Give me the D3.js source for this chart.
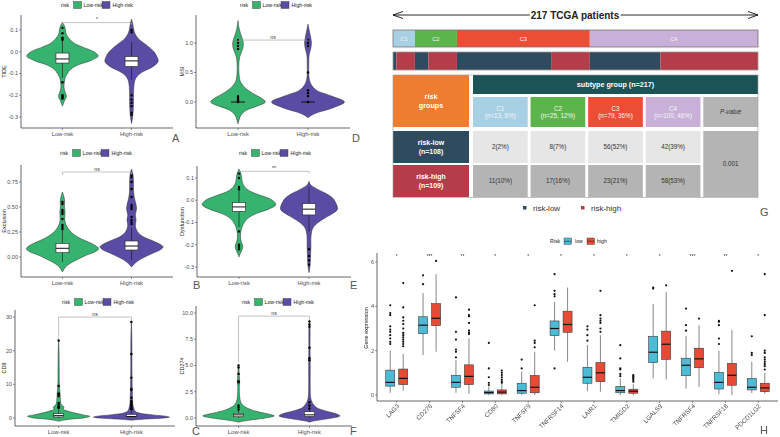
<!DOCTYPE html>
<html><head><meta charset="utf-8">
<script src="https://cdn.jsdelivr.net/npm/d3@7"></script>
<style>body{margin:0;background:#fff}svg{display:block}text{font-family:"Liberation Sans",Arial,sans-serif}.glabs{opacity:0.999;will-change:transform}</style>
</head><body><svg width="780" height="437"></svg>
<script>
// ================= DATA =================
const riskLabels = ["Low-risk", "High-risk"];
const riskFill = ["#35b36f", "#5a4ca4"];

// Panel A: TIDE
const tideTicks = [0.1, 0.0, -0.1, -0.2, -0.3];
const tideLowViolin = [[0.135,0],[0.12,0.05],[0.10,0.08],[0.08,0.1],[0.06,0.18],[0.04,0.3],[0.02,0.55],[0.0,0.83],[-0.02,0.94],[-0.04,0.75],[-0.06,0.42],[-0.08,0.22],[-0.10,0.13],[-0.12,0.07],[-0.14,0.05],[-0.16,0.04],[-0.18,0.06],[-0.20,0.1],[-0.21,0.1],[-0.22,0.07],[-0.24,0.02],[-0.25,0]];
const tideHighViolin = [[0.15,0],[0.13,0.03],[0.10,0.06],[0.08,0.1],[0.06,0.18],[0.04,0.32],[0.02,0.47],[0.0,0.59],[-0.02,0.66],[-0.045,0.7],[-0.07,0.55],[-0.09,0.32],[-0.11,0.16],[-0.13,0.09],[-0.16,0.06],[-0.2,0.05],[-0.24,0.05],[-0.28,0.04],[-0.31,0.02],[-0.33,0]];
const tideBoxes = [[-0.12,-0.052,-0.033,-0.006,0.05],[-0.13,-0.068,-0.042,-0.022,0.045]];
const tideLowDots = [0.11,0.085,0.065,0.06,0.055,-0.14,-0.2,-0.205,-0.21,-0.215];
const tideHighDots = [0.1,0.09,-0.2,-0.22,-0.235,-0.25,-0.28,-0.29];
const tideSig = "*";

// Panel B: Exclusion
const exclTicks = [0.75, 0.5, 0.25, 0.0];
const exclLowViolin = [[0.65,0],[0.6,0.04],[0.55,0.06],[0.5,0.05],[0.45,0.07],[0.4,0.06],[0.35,0.07],[0.3,0.12],[0.26,0.2],[0.22,0.32],[0.18,0.5],[0.14,0.74],[0.1,0.92],[0.08,0.95],[0.05,0.85],[0.02,0.64],[-0.02,0.42],[-0.06,0.22],[-0.1,0.08],[-0.13,0.03],[-0.15,0]];
const exclHighViolin = [[0.88,0],[0.82,0.04],[0.75,0.05],[0.68,0.05],[0.6,0.07],[0.52,0.12],[0.48,0.13],[0.42,0.1],[0.37,0.12],[0.32,0.1],[0.28,0.12],[0.24,0.18],[0.2,0.32],[0.16,0.57],[0.12,0.78],[0.1,0.83],[0.07,0.75],[0.04,0.57],[0.0,0.35],[-0.03,0.2],[-0.07,0.07],[-0.1,0]];
const exclBoxes = [[-0.05,0.043,0.087,0.137,0.27],[-0.03,0.07,0.11,0.16,0.29]];
const exclLowDots = [0.28,0.3,0.32,0.38,0.43,0.45,0.47,0.53,0.55];
const exclHighDots = [0.33,0.35,0.37,0.4,0.48,0.5,0.52,0.6,0.68,0.75,0.8,0.82];
const exclSig = "ns";

// Panel C: CD8
const cd8Ticks = [30, 20, 10, 0];
const cd8LowViolin = [[23,0],[20,0.01],[15,0.015],[10,0.02],[7,0.04],[5,0.05],[4,0.07],[3.4,0.13],[3.0,0.14],[2.6,0.12],[2.2,0.2],[1.6,0.38],[1.0,0.62],[0.5,0.82],[0.1,0.7],[-0.3,0.35],[-0.7,0.1],[-1.0,0]];
const cd8HighViolin = [[28.5,0],[25,0.01],[20,0.015],[15,0.015],[10,0.02],[6,0.03],[4,0.04],[3,0.06],[2,0.1],[1.5,0.2],[1.0,0.5],[0.5,0.92],[0.25,1.0],[0.0,0.85],[-0.3,0.4],[-0.6,0.05],[-0.7,0]];
const cd8Boxes = [[0,0.3,0.7,1.3,2.8],[0,0.15,0.45,1.1,2.5]];
const cd8LowDots = [3,3.2,3.5,4,4.5,6.5,7,7.3,9.5,23];
const cd8HighDots = [2.6,2.8,3,3.5,4,4.5,5,6,8.3,8.6,12,19,28.5];
const cd8Sig = "ns";

// Panel D: MSI
const msiTicks = [1.0, 0.5, 0.0];
const msiLowViolin = [[1.38,0],[1.28,0.02],[1.17,0.06],[1.08,0.11],[1.0,0.14],[0.92,0.13],[0.83,0.08],[0.75,0.04],[0.6,0.02],[0.45,0.03],[0.35,0.06],[0.25,0.17],[0.15,0.38],[0.07,0.6],[0.0,0.72],[-0.07,0.5],[-0.14,0.22],[-0.22,0.08],[-0.3,0.03],[-0.37,0]];
const msiHighViolin = [[1.32,0],[1.22,0.03],[1.1,0.07],[1.0,0.09],[0.9,0.07],[0.8,0.03],[0.65,0.02],[0.5,0.02],[0.4,0.03],[0.3,0.08],[0.2,0.22],[0.1,0.62],[0.0,0.96],[-0.1,0.65],[-0.18,0.25],[-0.23,0.08],[-0.27,0]];
const msiBoxes = [[0,0,0,0,0],[0,0,0,0,0]];
const msiLowDots = [0,0.03,0.05,0.07,0.1,0.9,0.95,1.0,1.05];
const msiHighDots = [0,0.1,0.15,0.2,0.5,0.95,1.0,1.05];
const msiSig = "ns";

// Panel E: Dysfunction
const dysTicks = [0.1, 0.0, -0.1, -0.2, -0.3];
const dysLowViolin = [[0.14,0],[0.12,0.05],[0.10,0.07],[0.08,0.09],[0.06,0.15],[0.04,0.3],[0.02,0.6],[0.0,0.88],[-0.02,0.97],[-0.04,0.78],[-0.06,0.45],[-0.08,0.24],[-0.10,0.14],[-0.12,0.08],[-0.14,0.05],[-0.17,0.04],[-0.19,0.07],[-0.21,0.1],[-0.23,0.06],[-0.245,0.02],[-0.255,0]];
const dysHighViolin = [[0.085,0],[0.07,0.04],[0.05,0.22],[0.03,0.45],[0.01,0.62],[-0.01,0.7],[-0.04,0.75],[-0.06,0.62],[-0.08,0.42],[-0.10,0.24],[-0.12,0.12],[-0.14,0.07],[-0.17,0.05],[-0.21,0.05],[-0.25,0.04],[-0.29,0.03],[-0.315,0.01],[-0.325,0]];
const dysBoxes = [[-0.12,-0.05,-0.03,-0.01,0.05],[-0.14,-0.066,-0.04,-0.015,0.06]];
const dysLowDots = [0.12,0.1,0.06,0.05,-0.14,-0.2,-0.205,-0.21,-0.22];
const dysHighDots = [-0.22,-0.25,-0.27,-0.29];
const dysSig = "**";

// Panel F: CD274
const cd274Ticks = [10, 7.5, 5, 2.5, 0];
const cd274LowViolin = [[5.05,0],[4.5,0.015],[4,0.02],[3.5,0.03],[3,0.02],[2.5,0.02],[2,0.03],[1.5,0.06],[1.2,0.12],[1.0,0.2],[0.7,0.4],[0.4,0.75],[0.2,0.94],[0.0,0.7],[-0.2,0.3],[-0.35,0.05],[-0.4,0]];
const cd274HighViolin = [[9.3,0],[8.5,0.015],[7,0.015],[5,0.02],[3,0.02],[2,0.03],[1.5,0.07],[1.0,0.18],[0.7,0.4],[0.4,0.7],[0.2,0.8],[0.0,0.6],[-0.2,0.25],[-0.35,0.03],[-0.4,0]];
const cd274Boxes = [[0,0.12,0.3,0.45,0.9],[0,0.15,0.3,0.6,1.2]];
const cd274LowDots = [0.8,1.0,1.2,3.4,3.5,4.2,4.8,5.0];
const cd274HighDots = [0.9,1.2,1.5,5.5,5.7,6.7,8.7,8.9,9.2];
const cd274Sig = "ns";

// Panel G
const totalPatients = 217;
const subtypes = ["C1", "C2", "C3", "C4"];
const subtypeN = [13, 25, 79, 100];
const subtypePct = ["6%", "12%", "36%", "46%"];
const subtypeColors = ["#a7d0e4", "#5cb54a", "#eb4e35", "#c8b0d8"];
const riskLowN = [2, 8, 56, 42];
const riskHighN = [11, 17, 23, 58];
const riskGroupNames = ["risk-low", "risk-high"];
const riskGroupColors = ["#2f4b60", "#b53d49"];
const pValueText = "0.001";

// Panel H
const genes = ["LAG3","CD276","TNFSF4","CD80","TNFSF9","TNFRSF14","LAIR1","TMIGD2","LGALS9","TNFRSF4","TNFRSF18","PDCD1LG2"];
const geneSig = ["*","***","**","*","*","*","*","*","*","***","**","*"];
const exprTicks = [0, 2, 4, 6];
const hRisk = ["low", "high"];
const hColors = ["#4dbbd5", "#e64b35"];
// [lower whisker, q1, median, q3, upper whisker]
const lowBoxes = [[0.1,0.4,0.57,1.12,2.0],[1.8,2.77,3.15,3.53,4.6],[0.1,0.35,0.57,0.89,1.58],[0,0.05,0.11,0.18,0.37],[0,0.08,0.2,0.53,1.05],[2.0,2.68,3.0,3.34,4.2],[0.17,0.53,0.8,1.25,2.26],[0,0.1,0.2,0.39,0.75],[0.75,1.46,1.93,2.65,4.11],[0.29,0.87,1.34,1.66,2.67],[0.03,0.27,0.57,1.02,1.99],[0.09,0.23,0.35,0.74,1.5]];
const highBoxes = [[0.2,0.47,0.75,1.17,1.85],[1.95,3.13,3.46,4.12,5.45],[0.05,0.47,0.84,1.36,2.56],[0,0.05,0.13,0.23,0.5],[0,0.1,0.35,0.88,1.95],[1.5,2.83,3.18,3.78,4.85],[0.15,0.6,1.0,1.46,2.7],[0,0.08,0.17,0.26,0.5],[0.7,1.61,2.29,2.88,4.64],[0.36,1.23,1.63,2.11,3.15],[0,0.44,0.89,1.43,2.94],[0.05,0.15,0.32,0.53,1.0]];
const lowOutliers = [[2.3,2.4,2.55,2.7,2.85,2.95,3.1,3.6,3.7,4.05],[5.0,5.4],[1.7,1.95,2.05,2.5,2.85,4.4],[0.45,0.55,0.8,1.2,2.35],[1.2,1.6],[1.2,4.45,4.55,4.7,5.45],[2.45,2.7,2.95,3.1],[0.85,0.95,1.15,1.2,1.65,2.25],[4.8,4.85],[2.9,3.15,3.9],[2.3,2.55,3.15,3.3,3.35],[1.8,1.9,2.65]];
const highOutliers = [[2.2,2.3,2.4,2.5,2.6,2.7,2.8,3.0,3.2,3.35,3.5,3.95,5.05],[6.05],[2.75,2.8,2.9,3.25,3.55,3.6,3.85],[0.55,0.62,0.7,0.8,0.9,1.0,1.1],[2.15,2.35,2.45,4.05],[],[2.85,3.0,3.25,3.35,3.45,3.6,4.7],[0.6,0.68,0.75,0.8,0.85,0.9],[4.95],[3.45],[5.6],[1.15,1.3,1.4,1.5,1.6,1.7,1.9,2.0,3.6,5.45]];

// ================= DRAW =================
const svg = d3.select("svg");

function violinPanel(o) {
  const g = svg.append("g");
  const y = d3.scaleLinear().domain(o.dom).range(o.rng);
  const x = d3.scalePoint().domain(riskLabels).range(o.xr).padding(0.6);
  const w = d3.scaleLinear().domain([0, 1]).range([0, 38]);
  const lg = g.append("g").attr("transform", `translate(${o.lx},${o.ly})`);
  lg.append("text").attr("y", 0).attr("dy", "0.35em").attr("font-size", 5.2).attr("fill", "#222").text("risk");
  const offs = [[12.5, 22.5], [41, 51.5]];
  riskLabels.forEach((r, i) => {
    lg.append("rect").attr("x", offs[i][0]).attr("y", -3.5).attr("width", 8).attr("height", 7)
      .attr("fill", riskFill[i]).attr("stroke", "#333").attr("stroke-width", 0.4);
    lg.append("text").attr("x", offs[i][1]).attr("dy", "0.35em").attr("font-size", 5.2).attr("fill", "#222").text(r);
  });
  const x0 = o.xr[0], x1 = o.xr[1], yb = o.yb;
  [o.violins[0], o.violins[1]].forEach((v, i) => {
    const cx = x(riskLabels[i]);
    const area = d3.area().y(d => y(d[0])).x0(d => cx - w(d[1])).x1(d => cx + w(d[1]))
      .curve(d3.curveCatmullRom.alpha(0.5));
    g.append("path").attr("d", area(v)).attr("fill", riskFill[i]).attr("stroke", "#2a2a2a").attr("stroke-width", 0.5);
  });
  o.boxes.forEach((b, i) => {
    const cx = x(riskLabels[i]);
    g.append("line").attr("x1", cx).attr("x2", cx).attr("y1", y(b[0])).attr("y2", y(b[4])).attr("stroke", "#111").attr("stroke-width", 0.6);
    const bw = o.boxW;
    g.append("rect").attr("x", cx - bw / 2).attr("width", bw).attr("y", y(b[3])).attr("height", Math.max(0, y(b[1]) - y(b[3])))
      .attr("fill", "#fff").attr("stroke", "#222").attr("stroke-width", 0.6);
    g.append("line").attr("x1", cx - bw / 2).attr("x2", cx + bw / 2).attr("y1", y(b[2])).attr("y2", y(b[2])).attr("stroke", "#111").attr("stroke-width", 1);
  });
  o.dots.forEach((ds, i) => {
    const cx = x(riskLabels[i]);
    g.selectAll(null).data(ds).enter().append("circle").attr("cx", cx).attr("cy", d => y(d)).attr("r", 1.2).attr("fill", "#000");
  });
  g.append("line").attr("x1", x0).attr("x2", x0).attr("y1", o.yt).attr("y2", yb).attr("stroke", "#000").attr("stroke-width", 0.6);
  g.append("line").attr("x1", x0).attr("x2", x1).attr("y1", yb).attr("y2", yb).attr("stroke", "#000").attr("stroke-width", 0.6);
  o.ticks.forEach(t => {
    g.append("line").attr("x1", x0 - 2).attr("x2", x0).attr("y1", y(t)).attr("y2", y(t)).attr("stroke", "#333").attr("stroke-width", 0.5);
    g.append("text").attr("x", x0 - 3).attr("y", y(t)).attr("dy", "0.35em").attr("text-anchor", "end")
      .attr("font-size", 5.5).attr("fill", "#4d4d4d").text(o.fmt(t));
  });
  riskLabels.forEach(r => {
    g.append("line").attr("x1", x(r)).attr("x2", x(r)).attr("y1", yb).attr("y2", yb + 2).attr("stroke", "#333").attr("stroke-width", 0.5);
    g.append("text").attr("x", x(r)).attr("y", yb + 7.5).attr("text-anchor", "middle").attr("font-size", 5.8).attr("fill", "#4d4d4d").text(r);
  });
  g.append("text").attr("transform", `translate(${o.tx},${(o.yt + yb) / 2}) rotate(-90)`).attr("text-anchor", "middle")
    .attr("dy", "0.35em").attr("font-size", 5.5).attr("fill", "#222").text(o.title);
  const xl = x(riskLabels[0]), xh = x(riskLabels[1]);
  g.append("path").attr("d", `M${xl},${y(o.br[1])}V${y(o.br[0])}H${xh}V${y(o.br[2])}`)
    .attr("fill", "none").attr("stroke", "#9a9a9a").attr("stroke-width", 0.6);
  g.append("text").attr("x", (xl + xh) / 2).attr("y", y(o.br[0]) - 1.5).attr("text-anchor", "middle")
    .attr("font-size", 5.2).attr("fill", "#333").text(o.sig);
  g.append("text").attr("x", o.letter[1]).attr("y", o.letter[2]).attr("font-family", "Liberation Serif, serif")
    .attr("font-size", 11).attr("fill", "#555").text(o.letter[0]);
}

violinPanel({title: "TIDE", dom: [-0.3, 0.1], rng: [117, 30], yt: 15, yb: 128, xr: [21, 173], ticks: tideTicks, fmt: t => t.toFixed(1),
  lx: 61, ly: 5, tx: 4, violins: [tideLowViolin, tideHighViolin], boxes: tideBoxes, boxW: 13, dots: [tideLowDots, tideHighDots],
  sig: tideSig, br: [0.134, 0.125, 0.125], letter: ["A", 172, 142]});
violinPanel({title: "Exclusion", dom: [0, 0.75], rng: [257, 182], yt: 165, yb: 277, xr: [21, 173], ticks: exclTicks, fmt: t => t.toFixed(2),
  lx: 60, ly: 153, tx: 4, violins: [exclLowViolin, exclHighViolin], boxes: exclBoxes, boxW: 13, dots: [exclLowDots, exclHighDots],
  sig: exclSig, br: [0.85, 0.82, 0.82], letter: ["B", 193, 289]});
violinPanel({title: "CD8", dom: [0, 30], rng: [418, 317], yt: 310, yb: 426, xr: [15, 175], ticks: cd8Ticks, fmt: t => String(t),
  lx: 62, ly: 302, tx: 4, violins: [cd8LowViolin, cd8HighViolin], boxes: cd8Boxes, boxW: 10, dots: [cd8LowDots, cd8HighDots],
  sig: cd8Sig, br: [30, 23.5, 28.8], letter: ["C", 192, 435]});
violinPanel({title: "MSI", dom: [0, 1], rng: [102, 43], yt: 15, yb: 128, xr: [196, 350], ticks: msiTicks, fmt: t => t.toFixed(1),
  lx: 240, ly: 5, tx: 182, violins: [msiLowViolin, msiHighViolin], boxes: msiBoxes, boxW: 14, dots: [msiLowDots, msiHighDots],
  sig: msiSig, br: [1.05, 1.03, 1.03], letter: ["D", 352, 142]});
violinPanel({title: "Dysfunction", dom: [-0.3, 0.1], rng: [267, 178], yt: 166, yb: 277, xr: [197, 351], ticks: dysTicks, fmt: t => t.toFixed(1),
  lx: 239, ly: 153, tx: 182, violins: [dysLowViolin, dysHighViolin], boxes: dysBoxes, boxW: 13, dots: [dysLowDots, dysHighDots],
  sig: dysSig, br: [0.13, 0.12, 0.12], letter: ["E", 350, 289]});
violinPanel({title: "CD274", dom: [0, 10], rng: [418, 313], yt: 306, yb: 426, xr: [196, 352], ticks: cd274Ticks, fmt: t => t.toFixed(1),
  lx: 242, ly: 302, tx: 182, violins: [cd274LowViolin, cd274HighViolin], boxes: cd274Boxes, boxW: 10, dots: [cd274LowDots, cd274HighDots],
  sig: cd274Sig, br: [9.7, 5.3, 9.3], letter: ["F", 350, 435]});

// ---------- Panel G ----------
(function () {
  const g = svg.append("g");
  const gx = d3.scaleLinear().domain([0, totalPatients]).range([393, 758]);
  const ay = 15;
  g.append("line").attr("x1", gx(0)).attr("x2", gx(totalPatients)).attr("y1", ay).attr("y2", ay).attr("stroke", "#111").attr("stroke-width", 0.9);
  g.append("path").attr("d", `M${gx(0) + 10},${ay - 3.5}L${gx(0)},${ay}L${gx(0) + 10},${ay + 3.5}`).attr("fill", "none").attr("stroke", "#111").attr("stroke-width", 0.9);
  g.append("path").attr("d", `M${gx(totalPatients) - 10},${ay - 3.5}L${gx(totalPatients)},${ay}L${gx(totalPatients) - 10},${ay + 3.5}`).attr("fill", "none").attr("stroke", "#111").attr("stroke-width", 0.9);
  const tt = g.append("text").attr("x", 575).attr("y", ay).attr("dy", "0.35em").attr("text-anchor", "middle")
    .attr("font-size", 10).attr("font-weight", "bold").attr("fill", "#222").text(totalPatients + " TCGA patients");
  const bb = tt.node().getBBox();
  g.insert("rect", "text").attr("x", bb.x - 1).attr("y", bb.y).attr("width", bb.width + 2).attr("height", bb.height).attr("fill", "#fff");
  const cum = d3.cumsum(subtypeN);
  subtypes.forEach((s, i) => {
    const a = i ? cum[i - 1] : 0;
    g.append("rect").attr("x", gx(a)).attr("y", 30).attr("width", gx(subtypeN[i]) - gx(0)).attr("height", 17).attr("fill", subtypeColors[i]);
    g.append("text").attr("x", gx(a + subtypeN[i] / 2)).attr("y", 38.5).attr("dy", "0.35em").attr("text-anchor", "middle")
      .attr("font-size", 5.8).attr("fill", "#f4f4f4").text(s);
    g.append("rect").attr("x", gx(a)).attr("y", 52).attr("width", gx(riskLowN[i]) - gx(0)).attr("height", 18).attr("fill", riskGroupColors[0]);
    g.append("rect").attr("x", gx(a + riskLowN[i])).attr("y", 52).attr("width", gx(riskHighN[i]) - gx(0)).attr("height", 18).attr("fill", riskGroupColors[1]);
  });
  g.append("rect").attr("x", gx(0)).attr("y", 30).attr("width", gx(totalPatients) - gx(0)).attr("height", 17).attr("fill", "none").attr("stroke", "#777").attr("stroke-width", 0.8);
  g.append("rect").attr("x", gx(0)).attr("y", 52).attr("width", gx(totalPatients) - gx(0)).attr("height", 18).attr("fill", "none").attr("stroke", "#999").attr("stroke-width", 0.8);

  const col = d3.scaleBand().domain([...subtypes, "P"]).range([473, 758]).paddingInner(0.05);
  const bw = col.bandwidth();
  const white = "#ffffff";
  const T = (x, y, s, o = {}) => g.append("text").attr("x", x).attr("y", y).attr("dy", "0.35em").attr("text-anchor", "middle")
    .attr("font-size", o.fs || 6.5).attr("font-weight", o.bold ? "bold" : "normal").attr("font-style", o.italic ? "italic" : "normal")
    .attr("fill", o.fill || "#333").text(s);
  g.append("rect").attr("x", 393).attr("y", 75).attr("width", 76).attr("height", 52).attr("fill", "#ee7d31");
  T(431, 96.5, "risk", {bold: true, fill: white, fs: 7.2});
  T(431, 105.5, "groups", {bold: true, fill: white, fs: 7.2});
  g.append("rect").attr("x", 473).attr("y", 75).attr("width", 285).attr("height", 19).attr("fill", "#1c5356");
  T(615.5, 84.5, `subtype group (n=${totalPatients})`, {bold: true, fill: white, fs: 7.2});
  const rowY = [[131, 32], [165, 32]];
  const rowN = [d3.sum(riskLowN), d3.sum(riskHighN)];
  const rowCounts = [riskLowN, riskHighN];
  const cellFill = ["#e6e6e6", "#b4b4b4"];
  subtypes.forEach((s, i) => {
    g.append("rect").attr("x", col(s)).attr("y", 97).attr("width", bw).attr("height", 30).attr("fill", subtypeColors[i]);
    T(col(s) + bw / 2, 108.3, s, {fill: "#f6f6f6", fs: 6.3});
    T(col(s) + bw / 2, 115.7, `(n=${subtypeN[i]}, ${subtypePct[i]})`, {fill: "#f6f6f6", fs: 6.3});
    rowCounts.forEach((rc, r) => {
      g.append("rect").attr("x", col(s)).attr("y", rowY[r][0]).attr("width", bw).attr("height", rowY[r][1]).attr("fill", cellFill[r]);
      T(col(s) + bw / 2, rowY[r][0] + rowY[r][1] / 2, `${rc[i]}(${Math.round(rc[i] / rowN[r] * 100)}%)`, {fs: 6.3});
    });
  });
  g.append("rect").attr("x", col("P")).attr("y", 97).attr("width", bw).attr("height", 30).attr("fill", "#b4b4b4");
  T(col("P") + bw / 2, 112, "P-value", {italic: true, fs: 6.3});
  g.append("rect").attr("x", col("P")).attr("y", 131).attr("width", bw).attr("height", 66).attr("fill", "#b4b4b4");
  T(col("P") + bw / 2, 164, pValueText, {fs: 6.3});
  riskGroupNames.forEach((r, k) => {
    g.append("rect").attr("x", 393).attr("y", rowY[k][0]).attr("width", 76).attr("height", rowY[k][1]).attr("fill", riskGroupColors[k]);
    T(431, rowY[k][0] + 11.5, r, {bold: true, fill: white, fs: 7});
    T(431, rowY[k][0] + 20.3, `(n=${rowN[k]})`, {bold: true, fill: white, fs: 7});
  });
  g.append("rect").attr("x", 393).attr("y", 75).attr("width", 365).attr("height", 122.5).attr("fill", "none").attr("stroke", "#999").attr("stroke-width", 0.6);
  const lx = [523, 581];
  riskGroupNames.forEach((r, k) => {
    g.append("rect").attr("x", lx[k]).attr("y", 206).attr("width", 3.5).attr("height", 3.5).attr("fill", riskGroupColors[k]);
    g.append("text").attr("x", lx[k] + 10).attr("y", 208).attr("dy", "0.35em").attr("font-size", 8).attr("fill", "#333").text(r);
  });
  g.append("text").attr("x", 760).attr("y", 216).attr("font-family", "Liberation Serif, serif").attr("font-size", 11).attr("fill", "#555").text("G");
})();

// ---------- Panel H ----------
(function () {
  const g = svg.append("g");
  const x = d3.scalePoint().domain(genes).range([377, 778]).padding(0.6);
  const y = d3.scaleLinear().domain([0, 6]).range([395, 262]);
  const off = [-6.5, 6.5], bw = 9;
  g.append("text").attr("x", 550).attr("y", 241).attr("dy", "0.35em").attr("font-size", 5.2).attr("fill", "#222").text("Risk");
  const lk = [[564, 575], [587, 597]];
  hRisk.forEach((r, i) => {
    g.append("rect").attr("x", lk[i][0]).attr("y", 238).attr("width", 7.5).attr("height", 6.5).attr("fill", hColors[i]).attr("stroke", "#333").attr("stroke-width", 0.4);
    g.append("line").attr("x1", lk[i][0]).attr("x2", lk[i][0] + 7.5).attr("y1", 241.25).attr("y2", 241.25).attr("stroke", "#222").attr("stroke-width", 0.6);
    g.append("text").attr("x", lk[i][1]).attr("y", 241).attr("dy", "0.35em").attr("font-size", 5.2).attr("fill", "#222").text(r);
  });
  const sets = [[lowBoxes, lowOutliers], [highBoxes, highOutliers]];
  const labG = g.append("g").attr("class", "glabs");
  genes.forEach((gn, j) => {
    sets.forEach((st, i) => {
      const b = st[0][j], cx = x(gn) + off[i];
      g.append("line").attr("x1", cx).attr("x2", cx).attr("y1", y(b[0])).attr("y2", y(b[4])).attr("stroke", "#555").attr("stroke-width", 0.7);
      g.append("rect").attr("x", cx - bw / 2).attr("width", bw).attr("y", y(b[3])).attr("height", y(b[1]) - y(b[3]))
        .attr("fill", hColors[i]).attr("stroke", "#3a3a3a").attr("stroke-width", 0.6);
      g.append("line").attr("x1", cx - bw / 2).attr("x2", cx + bw / 2).attr("y1", y(b[2])).attr("y2", y(b[2])).attr("stroke", "#111").attr("stroke-width", 1.2);
      g.selectAll(null).data(st[1][j]).enter().append("circle").attr("cx", cx).attr("cy", d => y(d)).attr("r", 1.1).attr("fill", "#111");
    });
    g.append("text").attr("x", x(gn)).attr("y", 258).attr("text-anchor", "middle").attr("font-size", 5).attr("fill", "#333").text(geneSig[j]);
    g.append("line").attr("x1", x(gn)).attr("x2", x(gn)).attr("y1", 401).attr("y2", 403).attr("stroke", "#333").attr("stroke-width", 0.5);
    labG.append("text").attr("transform", `translate(${x(gn) + 1.5},${405}) rotate(-45)`).attr("text-anchor", "end")
      .attr("dy", "0.35em").attr("font-size", 6.3).attr("fill", "#4d4d4d").text(gn);
  });
  g.append("line").attr("x1", 377).attr("x2", 377).attr("y1", 253).attr("y2", 401).attr("stroke", "#000").attr("stroke-width", 0.6);
  g.append("line").attr("x1", 377).attr("x2", 778).attr("y1", 401).attr("y2", 401).attr("stroke", "#000").attr("stroke-width", 0.6);
  exprTicks.forEach(t => {
    g.append("line").attr("x1", 375).attr("x2", 377).attr("y1", y(t)).attr("y2", y(t)).attr("stroke", "#333").attr("stroke-width", 0.5);
    g.append("text").attr("x", 374).attr("y", y(t)).attr("dy", "0.35em").attr("text-anchor", "end").attr("font-size", 5.5).attr("fill", "#4d4d4d").text(t);
  });
  g.append("text").attr("transform", "translate(366,328) rotate(-90)").attr("text-anchor", "middle").attr("dy", "0.35em")
    .attr("font-size", 5.5).attr("fill", "#222").text("Gene expression");
  g.append("text").attr("x", 760).attr("y", 434).attr("font-family", "Liberation Serif, serif").attr("font-size", 11).attr("fill", "#555").text("H");
})();
</script></body></html>
